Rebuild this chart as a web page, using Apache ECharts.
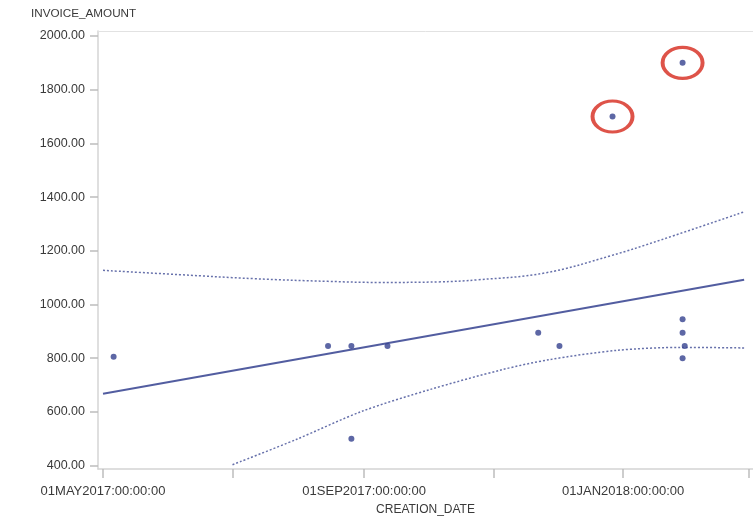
<!DOCTYPE html>
<html>
<head>
<meta charset="utf-8">
<script src="https://cdn.jsdelivr.net/npm/echarts@6/dist/echarts.min.js"></script>
<style>
  html, body { margin: 0; padding: 0; background: #fff; }
  #scatterFit { width: 753px; height: 521px; }
</style>
</head>
<body>
<div id="scatterFit"></div>
<script>
  // observed invoices
  var pointDates = ['2017-05-06', '2017-08-15', '2017-08-26', '2017-08-26', '2017-09-12',
                    '2017-11-22', '2017-12-02', '2018-01-29', '2018-01-29', '2018-01-30', '2018-01-29'];
  var pointAmounts = [805, 845, 845, 500, 845, 895, 845, 945, 895, 845, 800];

  // the two circled outliers
  var outlierDates = ['2017-12-27', '2018-01-29'];
  var outlierAmounts = [1700, 1900];

  // regression line (ends)
  var fitDates = ['2017-05-01', '2018-02-27'];
  var fitAmounts = [667, 1092];

  // confidence limits
  var upperDates = ['2017-05-01', '2017-06-06', '2017-07-11', '2017-08-15', '2017-09-08', '2017-10-06',
                    '2017-10-25', '2017-11-25', '2017-12-26', '2018-01-19', '2018-02-27'];
  var upperAmounts = [1127, 1111, 1096, 1086, 1082, 1084, 1092, 1117, 1181, 1241, 1345];
  var lowerDates = ['2017-07-01', '2017-07-31', '2017-08-31', '2017-10-02', '2017-11-05',
                    '2017-11-27', '2017-12-29', '2018-01-29', '2018-02-27'];
  var lowerAmounts = [403, 497, 602, 683, 757, 794, 829, 840, 838];

  // axis ticks
  var yTicks = [400, 600, 800, 1000, 1200, 1400, 1600, 1800, 2000];
  var xTickDates = ['2017-05-01', '2017-07-01', '2017-09-01', '2017-11-01', '2018-01-01', '2018-03-01'];
  var xLabelDates = ['2017-05-01', '2017-09-01', '2018-01-01'];

  var months = ['JAN','FEB','MAR','APR','MAY','JUN','JUL','AUG','SEP','OCT','NOV','DEC'];
  function toTime(s) {
    var p = s.split('-');
    return new Date(+p[0], +p[1] - 1, +p[2]).getTime();
  }
  function pairs(xs, ys) {
    return xs.map(function (x, i) { return [toTime(x), ys[i]]; });
  }
  function pad2(n) { return n < 10 ? '0' + n : '' + n; }

  var navy = '#34418f';
  var font = 'Liberation Sans, Arial, sans-serif';
  var xMin = new Date(2017, 3, 28, 15, 30).getTime();
  var xMax = new Date(2018, 2, 3, 4, 0).getTime();

  var chart = echarts.init(document.getElementById('scatterFit'));
  chart.setOption({
    animation: false,
    textStyle: { fontFamily: font },
    title: {
      text: 'INVOICE_AMOUNT',
      left: 31, top: 8, padding: 0,
      textStyle: { fontSize: 11.7, fontWeight: 'normal', color: '#3a3a3a', fontFamily: font }
    },
    grid: {
      left: 98, top: 31, right: 0, bottom: 51.5
    },
    xAxis: [{
      type: 'value',
      min: xMin,
      max: xMax,
      name: 'CREATION_DATE',
      nameLocation: 'middle',
      nameGap: 35,
      nameTextStyle: { fontSize: 12, color: '#3a3a3a' },
      axisLine: { lineStyle: { color: '#d4d4d4', width: 1.5 } },
      axisTick: { show: true, length: 9, lineStyle: { color: '#bdbdbd', width: 1.5 },
                  customValues: xTickDates.map(toTime) },
      axisLabel: {
        fontSize: 13, color: '#3a3a3a', margin: 16,
        customValues: xLabelDates.map(toTime),
        formatter: function (v) {
          var d = new Date(v);
          return pad2(d.getDate()) + months[d.getMonth()] + d.getFullYear() + ':00:00:00';
        }
      },
      splitLine: { show: false }
    }, {
      // top frame line only
      type: 'value',
      position: 'top',
      min: xMin,
      max: xMax,
      axisLine: { show: true, lineStyle: { color: '#e2e2e2', width: 1 } },
      axisTick: { show: false },
      axisLabel: { show: false },
      splitLine: { show: false }
    }],
    yAxis: {
      type: 'value',
      min: 387,
      max: 2018.6,
      axisLine: { show: true, lineStyle: { color: '#d4d4d4', width: 1.5 } },
      axisTick: { show: true, length: 8, lineStyle: { color: '#bdbdbd', width: 1.5 },
                  customValues: yTicks },
      axisLabel: {
        fontSize: 12.5, color: '#3a3a3a', margin: 13,
        customValues: yTicks,
        formatter: function (v) { return v.toFixed(2); }
      },
      splitLine: { show: false }
    },
    series: [
      {
        name: 'Upper limit',
        type: 'line',
        smooth: 0.4,
        symbol: 'none',
        data: pairs(upperDates, upperAmounts),
        lineStyle: { color: navy, width: 1.5, type: [2, 2], opacity: 0.75 }
      },
      {
        name: 'Lower limit',
        type: 'line',
        smooth: 0.3,
        symbol: 'none',
        data: pairs(lowerDates, lowerAmounts),
        lineStyle: { color: navy, width: 1.5, type: [2, 2], opacity: 0.75 }
      },
      {
        name: 'Fit',
        type: 'line',
        symbol: 'none',
        data: pairs(fitDates, fitAmounts),
        lineStyle: { color: navy, width: 2, opacity: 0.85 }
      },
      {
        name: 'Invoices',
        type: 'scatter',
        symbolSize: 6,
        data: pairs(pointDates, pointAmounts).concat(pairs(outlierDates, outlierAmounts)),
        itemStyle: { color: navy }
      },
      {
        name: 'Outliers',
        type: 'scatter',
        symbol: 'circle',
        symbolSize: [40, 31],
        data: pairs(outlierDates, outlierAmounts),
        itemStyle: { color: 'rgba(0,0,0,0)', borderColor: '#d6281c', borderWidth: 3.5 }
      }
    ]
  });
</script>
</body>
</html>
